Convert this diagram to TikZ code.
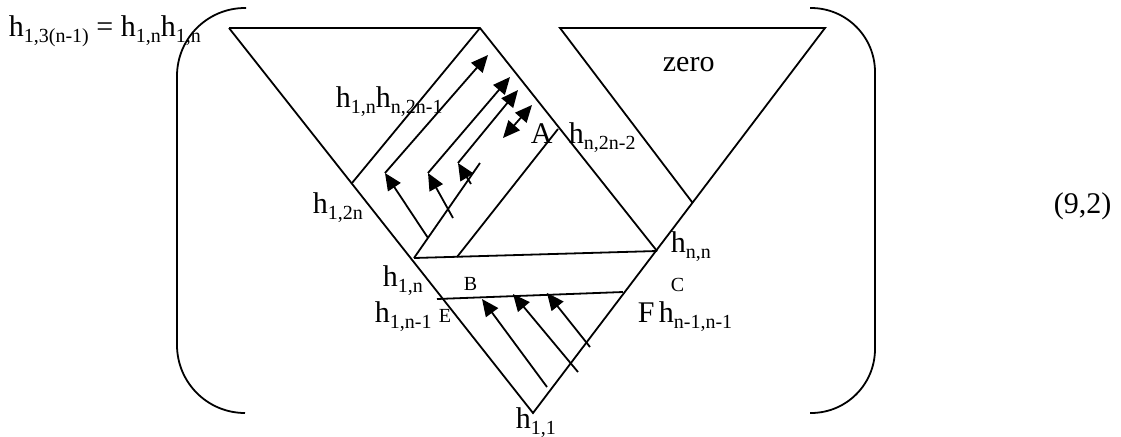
\documentclass[tikz,border=0pt]{standalone}
\usepackage{fontspec}
\setmainfont{Liberation Serif}
\usetikzlibrary{arrows.meta}

\newcommand{\lowsub}[1]{\raisebox{-3.2pt}{\fontsize{10}{12}\selectfont #1}}
\newcommand{\hh}[1]{h\lowsub{#1}}

\begin{document}
\begin{tikzpicture}[x=0.5pt,y=-0.5pt,line width=0.9pt,
  lbl/.style={anchor=base west,inner sep=0pt,font=\fontsize{15}{18}\selectfont},
  small/.style={anchor=base west,inner sep=0pt,font=\fontsize{10}{12}\selectfont},
  arr/.style={-{Triangle[length=8.5pt,width=7.5pt]}},
  darr/.style={{Triangle[length=8.5pt,width=7.5pt]}-{Triangle[length=8.5pt,width=7.5pt]}}]
\useasboundingbox (0,0) rectangle (1121,436);

% corners of the figure
\coordinate (tl) at (229,28);
\coordinate (tm) at (480,28);
\coordinate (zl) at (560,28);
\coordinate (zr) at (825,28);
\coordinate (apex) at (533,413);
\coordinate (nn) at (657,251);
\coordinate (zb) at (692,202);
\coordinate (p2n) at (352,183);
\coordinate (b1) at (414,258);
\coordinate (b2) at (457,257);
\coordinate (b3) at (480,163);
\coordinate (a1) at (558,129);
\coordinate (e) at (437,299);
\coordinate (f) at (623,292);

% brackets
\draw[rounded corners=34pt] (246,8) -- (177,8) -- (177,413) -- (245,413);
\draw[rounded corners=32pt] (810,8) -- (875,8) -- (875,413) -- (810,413);

% triangles and strips
\draw (tl) -- (tm) -- (nn);
\draw (tl) -- (apex) -- (zr) -- (zl) -- (zb);
\draw (p2n) -- (tm);
\draw (b1) -- (nn);
\draw (b1) -- (b3);
\draw (b2) -- (a1);
\draw (e) -- (f);

% arrows, upper part
\coordinate (c1) at (385,173);
\coordinate (c2) at (428,173);
\coordinate (c3) at (458,163);
\coordinate (t1) at (428,238);
\coordinate (t2) at (453,218);
\coordinate (t3) at (471,184);
\coordinate (u1) at (488,55);
\coordinate (u2) at (510,77);
\coordinate (u3) at (518,90);
\coordinate (d1) at (503,138);
\coordinate (d2) at (532,105);
\draw[arr] (t1) -- (c1);
\draw[arr] (c1) -- (u1);
\draw[arr] (t2) -- (c2);
\draw[arr] (c2) -- (u2);
\draw[arr] (t3) -- (c3);
\draw[arr] (c3) -- (u3);
\draw[darr] (d1) -- (d2);

% arrows, lower part
\coordinate (s1) at (547,387);
\coordinate (s2) at (578,372);
\coordinate (s3) at (590,347);
\coordinate (g1) at (482,299);
\coordinate (g2) at (513,294);
\coordinate (g3) at (547,293);
\draw[arr] (s1) -- (g1);
\draw[arr] (s2) -- (g2);
\draw[arr] (s3) -- (g3);

% labels
\node[lbl] (lhs) at (8,36) {\hh{1,3(n-1)} = \hh{1,n}\hh{1,n}};
\node[lbl] (hnm) at (335,107) {\hh{1,n}\hh{n,2n-1}};
\node[lbl] (h12n) at (312,213) {\hh{1,2n}};
\node[lbl] (la) at (530,143) {A};
\node[lbl] (hn2) at (568,143) {\hh{n,2n-2}};
\node[lbl] (zero) at (662,71) {zero};
\node[lbl] (hnnl) at (670,252) {\hh{n,n}};
\node[lbl] (h1n) at (382,286) {\hh{1,n}};
\node[small] (lb) at (463,290) {B};
\node[small] (lc) at (670,291) {C};
\node[lbl] (h1n1) at (374,322) {\hh{1,n-1}};
\node[small] (le) at (438,322) {E};
\node[lbl] (lf) at (637,322) {F};
\node[lbl] (hn1) at (658,322) {\hh{n-1,n-1}};
\node[lbl] (h11) at (515,428) {\hh{1,1}};
\node[lbl] (eq) at (1053,213) {(9,2)};
\end{tikzpicture}
\end{document}
